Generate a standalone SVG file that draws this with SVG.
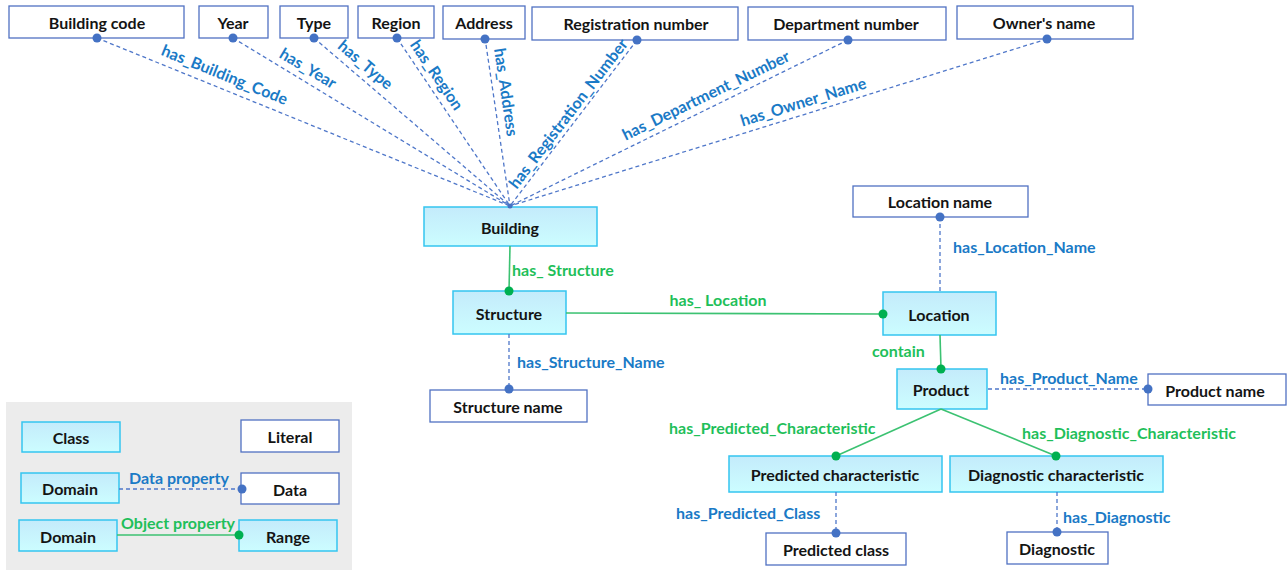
<svg xmlns="http://www.w3.org/2000/svg" width="1287" height="570" viewBox="0 0 1287 570">
<defs>
<linearGradient id="cg" x1="0" y1="0" x2="0" y2="1">
<stop offset="0" stop-color="#c4ebfb"/>
<stop offset="1" stop-color="#ccfdff"/>
</linearGradient>
<style>
.cls{fill:url(#cg);stroke:#35c5f0;stroke-width:1.5}
.lit{fill:#fff;stroke:#5071c2;stroke-width:1.3}
.nt{font-family:Lato,"Open Sans",sans-serif;font-weight:bold;font-size:16px;fill:#141414;text-anchor:middle;dominant-baseline:central}
.dp{stroke:#4f77c9;stroke-width:1.3;stroke-dasharray:4 3;fill:none}
.op{stroke:#3cc272;stroke-width:1.6;fill:none}
.bd{fill:#4472c4}
.gd{fill:#00b050}
.bl{font-family:Lato,"Open Sans",sans-serif;font-weight:bold;font-size:16px;fill:#1a7ac6;dominant-baseline:central}
.gl{font-family:Lato,"Open Sans",sans-serif;font-weight:bold;font-size:16px;fill:#1fbf5a;dominant-baseline:central}
.rl{font-family:Lato,"Open Sans",sans-serif;font-weight:bold;font-size:16px;fill:#1a7ac6;dominant-baseline:central;text-anchor:middle}
</style>
</defs>
<rect x="0" y="0" width="1287" height="570" fill="#fff"/>

<g id="legend">
<rect x="6" y="402" width="346" height="168" fill="#ececec"/>
<rect class="cls" x="22" y="422" width="98" height="30"/>
<text class="nt" x="71" y="437" font-size="16.5">Class</text>
<rect class="lit" x="241" y="420" width="98" height="32"/>
<text class="nt" x="290" y="436" font-size="16.5">Literal</text>
<rect class="cls" x="21" y="473" width="98" height="30"/>
<text class="nt" x="70" y="488" font-size="16.5">Domain</text>
<rect class="lit" x="241" y="473" width="98" height="31"/>
<text class="nt" x="290" y="489" font-size="16.5">Data</text>
<rect class="cls" x="19" y="520" width="98" height="31"/>
<text class="nt" x="68" y="536" font-size="16.5">Domain</text>
<rect class="cls" x="239" y="520" width="98" height="31"/>
<text class="nt" x="288" y="536" font-size="16.5">Range</text>
<line class="dp" x1="119" y1="489" x2="242" y2="489"/>
<circle class="bd" cx="242" cy="489" r="4.5"/>
<text class="bl" x="129" y="477" font-size="16.5">Data property</text>
<line class="op" x1="117" y1="535" x2="239" y2="535"/>
<circle class="gd" cx="239" cy="535" r="4.5"/>
<text class="gl" x="121" y="522" font-size="16.5">Object property</text>
</g>

<g id="n-building-code"><rect class="lit" x="9" y="6" width="175" height="32"/><text class="nt" x="97" y="22">Building code</text></g>
<g id="n-year"><rect class="lit" x="199" y="6" width="69" height="32"/><text class="nt" x="233" y="22">Year</text></g>
<g id="n-type"><rect class="lit" x="280" y="6" width="68" height="32"/><text class="nt" x="314" y="22">Type</text></g>
<g id="n-region"><rect class="lit" x="358" y="6" width="76" height="32"/><text class="nt" x="396" y="22">Region</text></g>
<g id="n-address"><rect class="lit" x="443" y="6" width="82" height="33"/><text class="nt" x="484" y="22">Address</text></g>
<g id="n-registration"><rect class="lit" x="532" y="7" width="206" height="33"/><text class="nt" x="636" y="23">Registration number</text></g>
<g id="n-department"><rect class="lit" x="748" y="7" width="198" height="33"/><text class="nt" x="846" y="23">Department number</text></g>
<g id="n-owner"><rect class="lit" x="957" y="6" width="176" height="33"/><text class="nt" x="1044" y="22">Owner's name</text></g>

<g id="n-building"><rect class="cls" x="424" y="207" width="173" height="39"/><text class="nt" x="510" y="227">Building</text></g>
<g id="n-structure"><rect class="cls" x="453" y="291" width="113" height="43"/><text class="nt" x="509" y="313">Structure</text></g>
<g id="n-structure-name"><rect class="lit" x="430" y="390" width="157" height="32"/><text class="nt" x="508" y="406">Structure name</text></g>
<g id="n-location-name"><rect class="lit" x="853" y="186" width="175" height="31"/><text class="nt" x="940" y="201">Location name</text></g>
<g id="n-location"><rect class="cls" x="883" y="292" width="113" height="43"/><text class="nt" x="939" y="314">Location</text></g>
<g id="n-product"><rect class="cls" x="897" y="369" width="90" height="40"/><text class="nt" x="941" y="389">Product</text></g>
<g id="n-product-name"><rect class="lit" x="1148" y="374" width="138" height="31"/><text class="nt" x="1215" y="390">Product name</text></g>
<g id="n-predicted-char"><rect class="cls" x="729" y="456" width="213" height="36"/><text class="nt" x="835" y="474">Predicted characteristic</text></g>
<g id="n-diagnostic-char"><rect class="cls" x="950" y="456" width="213" height="36"/><text class="nt" x="1056" y="474">Diagnostic characteristic</text></g>
<g id="n-predicted-class"><rect class="lit" x="766" y="533" width="140" height="32"/><text class="nt" x="836" y="549">Predicted class</text></g>
<g id="n-diagnostic"><rect class="lit" x="1007" y="532" width="101" height="32"/><text class="nt" x="1057" y="548">Diagnostic</text></g>

<g id="connectors">
<line class="dp" x1="97" y1="38" x2="510" y2="206"/>
<line class="dp" x1="233" y1="38" x2="510" y2="206"/>
<line class="dp" x1="314" y1="38" x2="510" y2="206"/>
<line class="dp" x1="397" y1="38" x2="510" y2="206"/>
<line class="dp" x1="485" y1="38" x2="510" y2="206"/>
<line class="dp" x1="637" y1="40" x2="510" y2="206"/>
<line class="dp" x1="848" y1="40" x2="510" y2="206"/>
<line class="dp" x1="1047" y1="39" x2="510" y2="206"/>
<circle class="bd" cx="97" cy="38" r="4.5"/>
<circle class="bd" cx="233" cy="38" r="4.5"/>
<circle class="bd" cx="314" cy="38" r="4.5"/>
<circle class="bd" cx="397" cy="38" r="4.5"/>
<circle class="bd" cx="485" cy="39" r="4.5"/>
<circle class="bd" cx="637" cy="40" r="4.5"/>
<circle class="bd" cx="848" cy="40" r="4.5"/>
<circle class="bd" cx="1047" cy="39" r="4.5"/>
<circle class="bd" cx="510" cy="206" r="2.5"/>
<text class="rl" transform="translate(225,74) rotate(22)">has_Building_Code</text>
<text class="rl" transform="translate(308.5,67.5) rotate(31)">has_Year</text>
<text class="rl" transform="translate(366,64) rotate(40.4)">has_Type</text>
<text class="rl" transform="translate(437.5,74.5) rotate(55.9)">has_Region</text>
<text class="rl" transform="translate(507,92) rotate(81.5)">has_Address</text>
<text class="rl" transform="translate(567.5,113) rotate(-52.4)">has_Registration_Number</text>
<text class="rl" transform="translate(705.5,94.5) rotate(-26)">has_Department_Number</text>
<text class="rl" transform="translate(803,101) rotate(-17.2)">has_Owner_Name</text>

<line class="op" x1="510" y1="246" x2="509" y2="291"/>
<circle class="gd" cx="509" cy="291" r="4.5"/>
<text class="gl" x="512" y="269">has_ Structure</text>

<line class="op" x1="566" y1="313" x2="883" y2="314"/>
<circle class="gd" cx="883" cy="314" r="4.5"/>
<text class="gl" x="718" y="299" text-anchor="middle">has_ Location</text>

<line class="dp" x1="509" y1="334" x2="509" y2="389"/>
<circle class="bd" cx="509" cy="389" r="4.5"/>
<text class="bl" x="517" y="361">has_Structure_Name</text>

<line class="dp" x1="940" y1="217" x2="940" y2="292"/>
<circle class="bd" cx="940" cy="217" r="4.5"/>
<text class="bl" x="953" y="246">has_Location_Name</text>

<line class="op" x1="940" y1="335" x2="941" y2="369"/>
<circle class="gd" cx="941" cy="369" r="4.5"/>
<text class="gl" x="872" y="350">contain</text>

<line class="dp" x1="988" y1="389" x2="1148" y2="389"/>
<circle class="bd" cx="1148" cy="389" r="4.5"/>
<text class="bl" x="1000" y="377">has_Product_Name</text>

<line class="op" x1="941" y1="409" x2="836" y2="456"/>
<line class="op" x1="941" y1="409" x2="1056" y2="456"/>
<circle class="gd" cx="836" cy="456" r="4.5"/>
<circle class="gd" cx="1056" cy="456" r="4.5"/>
<text class="gl" x="669" y="427">has_Predicted_Characteristic</text>
<text class="gl" x="1022" y="432">has_Diagnostic_Characteristic</text>

<line class="dp" x1="836" y1="492" x2="836" y2="533"/>
<circle class="bd" cx="836" cy="533" r="4.5"/>
<text class="bl" x="676" y="512">has_Predicted_Class</text>

<line class="dp" x1="1057" y1="492" x2="1057" y2="532"/>
<circle class="bd" cx="1057" cy="532" r="4.5"/>
<text class="bl" x="1063" y="516">has_Diagnostic</text>
</g>
</svg>
